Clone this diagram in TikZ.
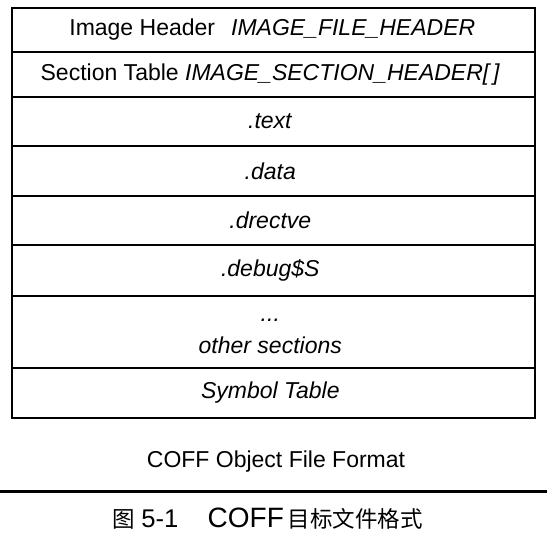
\documentclass[tikz,border=0pt]{standalone}
\usepackage{fontspec}
\setmainfont{Liberation Sans}
\newfontfamily\cjk{Noto Sans CJK SC}
\usetikzlibrary{matrix}

\begin{document}
\begin{tikzpicture}[x=0.5pt, y=-0.5pt,
        font=\fontsize{11.5}{14.5}\selectfont,
        feld/.style={draw, line width=0.6pt, minimum width=261.5pt,
            inner sep=0pt, outer sep=0pt, align=center}
        ]
            \useasboundingbox (0,0) rectangle (547,543);

            % Felder
            \matrix (S) [
                matrix of nodes,
                inner sep=0pt, outer sep=0pt,
                row sep=-0.6pt,
                nodes={feld}
            ] at (273.5,213)
            {
                |[minimum height=22pt]|   \hspace{2pt}Image Header\hspace{8pt}\textit{IMAGE\_FILE\_HEADER} \\
                |[minimum height=22.5pt]| Section Table \textit{IMAGE\_SECTION\_HEADER[\,]} \\
                |[minimum height=24.5pt]| \textit{.text} \\
                |[minimum height=25pt]|   \textit{.data} \\
                |[minimum height=24.5pt]| \textit{.drectve} \\
                |[minimum height=25.5pt]| \textit{.debug\$S} \\
                |[minimum height=36pt]|   \begin{tabular}{@{}c@{}}\textit{...}\\[1.5pt]\textit{other sections}\end{tabular} \\
                |[minimum height=25pt]|   \textit{Symbol Table} \\
            };

            % Beschriftung
            \node (titel) at (276,462) {COFF Object File Format};
            \coordinate (linkes) at (0,491.5);
            \coordinate (rechtes) at (547,491.5);
            \draw [line width=1.2pt] (linkes) -- (rechtes);
            \node (bild) at (112,519) [anchor=west, inner sep=0pt,
                font=\fontsize{11.25}{13}\selectfont]
                {{\cjk 图}\hspace{3.2pt}{\fontsize{12.8}{15}\selectfont 5-1}\hspace{14.7pt}{\fontsize{14}{15}\selectfont COFF}\hspace{2pt}{\cjk 目标文件格式}};

        \end{tikzpicture}
\end{document}
